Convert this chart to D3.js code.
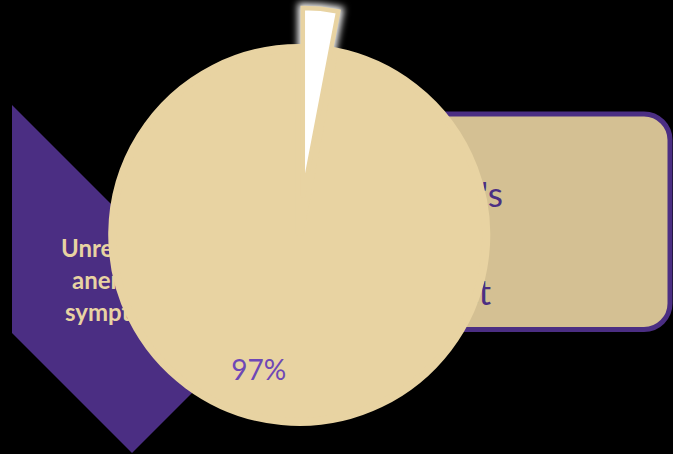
<!DOCTYPE html>
<html>
<head>
<meta charset="utf-8">
<script src="https://cdn.jsdelivr.net/npm/d3@7"></script>
<style>
  html, body { margin: 0; padding: 0; background: #000; }
  svg { display: block; }
</style>
</head>
<body>
<div class="canvas"></div>
<script>
// data
const sliceNames = ['other', 'main'];
const sliceValues = [3, 97];
const sliceLabels = ['', '97%'];
const chevronLines = ['Unrecognized', 'anemia', 'symptoms'];
const boxLines = ["Women's", 'quality of life', 'impact'];

const width = 673, height = 454;
const purple = '#4b2e83';
const gold = '#e8d3a2';

const svg = d3.select('.canvas')
  .append('svg')
  .attr('width', width)
  .attr('height', height);

svg.append('rect')
  .attr('width', width)
  .attr('height', height)
  .attr('fill', '#000');

// soft white glow, drawn behind the pie so it only shows on the black
const defs = svg.append('defs');
defs.append('filter')
  .attr('id', 'glow')
  .attr('x', '-50%').attr('y', '-50%')
  .attr('width', '200%').attr('height', '200%')
  .append('feGaussianBlur')
  .attr('in', 'SourceGraphic')
  .attr('stdDeviation', 3.5);

// left chevron (parts hidden behind the pie)
svg.append('path')
  .attr('d', 'M12,105 L246,339 L132,453 L12,333 Z')
  .attr('fill', purple);

const chevX = [61, 72, 65];
svg.append('g')
  .selectAll('text')
  .data(chevronLines)
  .join('text')
  .attr('x', (d, i) => chevX[i])
  .attr('y', (d, i) => 257 + i * 32)
  .attr('font-family', 'Lato, "Open Sans", sans-serif')
  .attr('font-weight', 700)
  .attr('font-size', 24)
  .attr('fill', gold)
  .text(d => d);

// right rounded box
svg.append('rect')
  .attr('x', 300)
  .attr('y', 114)
  .attr('width', 370)
  .attr('height', 215.5)
  .attr('rx', 26)
  .attr('fill', '#d4c093')
  .attr('stroke', purple)
  .attr('stroke-width', 5);

const boxEnd = [503, 470, 491];
svg.append('g')
  .selectAll('text')
  .data(boxLines)
  .join('text')
  .attr('x', (d, i) => boxEnd[i])
  .attr('y', (d, i) => 206.5 + i * 49)
  .attr('text-anchor', 'end')
  .attr('font-family', 'Lato, "Open Sans", sans-serif')
  .attr('font-size', 35)
  .attr('fill', purple)
  .text(d => d);

// pie, both slices pulled out from the centre
const cx = 301, cy = 216;
const explode = 19;
const radius = 187;

const pie = d3.pie()
  .sort(null)
  .value(d => d.value)
  .startAngle(0)
  .endAngle(2 * Math.PI);

const data = sliceNames.map((n, i) => ({ name: n, value: sliceValues[i], label: sliceLabels[i] }));
const arcs = pie(data);

const offset = d => {
  const a = (d.startAngle + d.endAngle) / 2;
  return [cx + Math.sin(a) * explode, cy - Math.cos(a) * explode];
};
const arcFor = (d, r) => d3.arc().innerRadius(0).outerRadius(r)(d);

const graph = svg.append('g');
const small = arcs[0], main = arcs[1];

// glow copy of the small slice
graph.append('path')
  .attr('transform', `translate(${offset(small)})`)
  .attr('d', arcFor(small, radius + 2))
  .attr('fill', '#fff')
  .attr('stroke', '#fff')
  .attr('stroke-width', 10)
  .attr('filter', 'url(#glow)');

graph.append('path')
  .attr('transform', `translate(${offset(main)})`)
  .attr('d', arcFor(main, radius))
  .attr('fill', gold)
  .attr('stroke', gold)
  .attr('stroke-width', 8);

graph.append('path')
  .attr('transform', `translate(${offset(small)})`)
  .attr('d', arcFor(small, radius + 2))
  .attr('fill', '#fff')
  .attr('stroke', gold)
  .attr('stroke-width', 4.5);

// label of the main slice
const [mx, my] = offset(main);
const labAngle = 196.7 * Math.PI / 180;
const labR = 141;
svg.append('text')
  .attr('x', mx + Math.sin(labAngle) * labR)
  .attr('y', my - Math.cos(labAngle) * labR + 10)
  .attr('text-anchor', 'middle')
  .attr('font-family', 'Lato, "Open Sans", sans-serif')
  .attr('font-size', 28)
  .attr('fill', '#6e47b6')
  .text(main.data.label);
</script>
</body>
</html>
